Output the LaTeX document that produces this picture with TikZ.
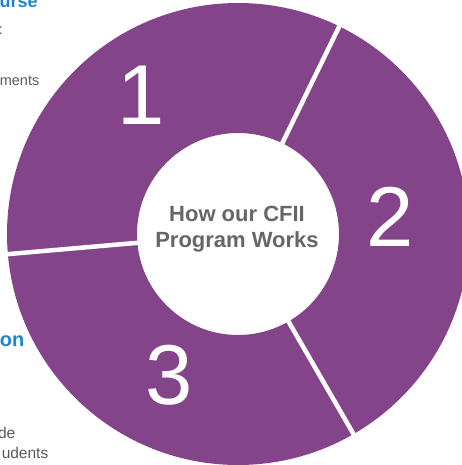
\documentclass[tikz,border=0pt]{standalone}
\usepackage{fontspec}
\setmainfont{Liberation Sans}
\usetikzlibrary{calc}
\definecolor{donut}{RGB}{132,68,137}
\definecolor{bluetxt}{RGB}{27,134,200}
\definecolor{graytxt}{RGB}{89,89,89}
\definecolor{centertxt}{RGB}{102,102,102}
\tikzset{
  num/.style={inner sep=0pt, text=white, font=\fontsize{85}{85}\selectfont},
  ctr/.style={inner sep=0pt, anchor=base, text=centertxt, font=\fontsize{22}{26}\selectfont\bfseries},
  side/.style={inner sep=0pt, text=graytxt, font=\fontsize{14.5}{17}\selectfont},
  sidehead/.style={inner sep=0pt, text=bluetxt, font=\fontsize{18}{21}\selectfont\bfseries},
  gap/.style={white, line width=4.5pt}
}
\begin{document}
\begin{tikzpicture}[x=1pt,y=1pt]
\useasboundingbox (0,0) rectangle (461,-465);
\coordinate (c) at (238,-234);
% donut ring
\fill[donut, even odd rule] (c) circle[radius=231] (c) circle[radius=101];
% separating gaps
\foreach \a in {64,185,-60}{
  \draw[gap] ($(c)+(\a:95)$) -- ($(c)+(\a:240)$);
}
% segment numbers
\node[num] (n1) at (141,-95.5) {1};
\node[num] (n2) at (390,-217) {2};
\node[num] (n3) at (169,-375) {3};
% centre text
\node[ctr] (t1) at (237,-221.7) {How our CFII};
\node[ctr] (t2) at (237,-247.3) {Program Works};
% cropped side texts
\node[sidehead, anchor=base west] (h1) at (-0.5,-7.3) {urse};
\node[side, anchor=base west] (s1) at (-1.3,-35) {:};
\node[side, anchor=base east] (s2) at (39.5,-86) {ments};
\node[sidehead, font=\fontsize{20}{23}\selectfont\bfseries, anchor=base east] (h2) at (24.5,-346) {on};
\node[side, font=\fontsize{15.5}{18}\selectfont, anchor=base east] (s3) at (15.5,-438) {de};
\node[side, font=\fontsize{15.5}{18}\selectfont, anchor=base east] (s4) at (48.5,-458) {udents};
\end{tikzpicture}
\end{document}
